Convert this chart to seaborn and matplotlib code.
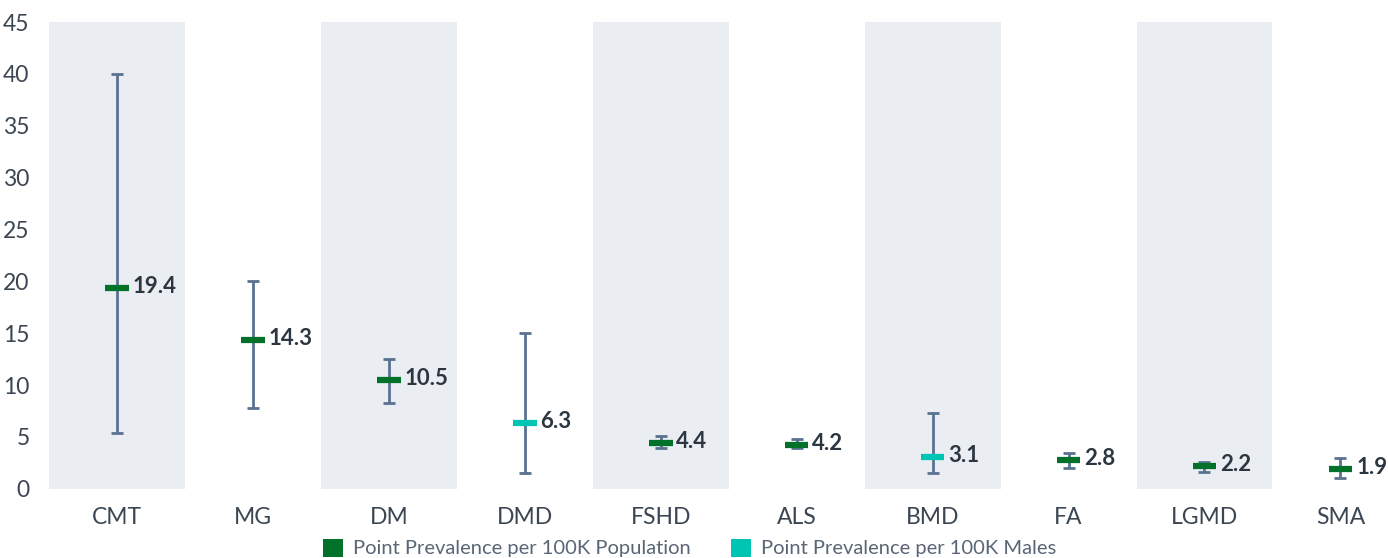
import matplotlib
matplotlib.use("Agg")
import matplotlib.pyplot as plt
from matplotlib.patches import Patch
import seaborn as sns
import pandas as pd

# Point prevalence per 100K with range (low / high)
diseases = ["CMT", "MG", "DM", "DMD", "FSHD", "ALS", "BMD", "FA", "LGMD", "SMA"]
prevalence = [19.4, 14.3, 10.5, 6.3, 4.4, 4.2, 3.1, 2.8, 2.2, 1.9]
range_low = [5.4, 7.8, 8.3, 1.5, 3.9, 3.9, 1.5, 2.0, 1.6, 1.0]
range_high = [40.0, 20.0, 12.5, 15.0, 5.1, 4.8, 7.3, 3.5, 2.6, 3.0]
basis = ["Population", "Population", "Population", "Males", "Population",
         "Population", "Males", "Population", "Population", "Population"]

series_names = {"Population": "Point Prevalence per 100K Population",
                "Males": "Point Prevalence per 100K Males"}
palette = {"Population": "#02722b", "Males": "#00c5b2"}

df = pd.DataFrame({"disease": diseases, "value": prevalence,
                   "low": range_low, "high": range_high, "basis": basis})
df["pos"] = range(len(df))

sns.set_theme(style="white")
plt.rcParams["font.family"] = ["Lato", "DejaVu Sans"]

fig = plt.figure(figsize=(13.88, 5.58), dpi=100)
ax = fig.add_axes([0.0353, 0.124, 0.9647, 0.8364])

# alternating shaded columns
for i in range(0, len(diseases), 2):
    ax.axvspan(i - 0.5, i + 0.5, color="#eaeef2", lw=0, zorder=0)

# range whiskers
ax.errorbar(df["pos"], df["value"],
            yerr=[df["value"] - df["low"], df["high"] - df["value"]],
            fmt="none", ecolor="#5a7190", elinewidth=2, capsize=4,
            capthick=2, zorder=2)

# point estimate dashes
sns.scatterplot(data=df, x="pos", y="value", hue="basis", palette=palette,
                marker="_", s=290, linewidth=4.5, legend=False, ax=ax,
                zorder=3)
for coll in ax.collections:
    coll.set_zorder(3)

for _, r in df.iterrows():
    ax.text(r["pos"] + 0.115, r["value"] + 0.15, f"{r['value']:.1f}",
            ha="left", va="center", fontsize=16, fontweight="bold",
            color="#2b3640", zorder=4)

ax.set_xlim(-0.5, 9.35)
ax.set_ylim(0, 45)
ax.set_yticks(range(0, 46, 5))
ax.set_xticks(df["pos"])
ax.set_xticklabels(diseases)
ax.set_xlabel("")
ax.set_ylabel("")
ax.tick_params(axis="x", length=0, pad=13, labelsize=16.5, labelcolor="#3b4652")
ax.tick_params(axis="y", length=0, pad=14, labelsize=16.5, labelcolor="#3b4652")
for s in ax.spines.values():
    s.set_visible(False)

handles = [Patch(facecolor=palette[k], edgecolor="none", label=series_names[k])
           for k in ["Population", "Males"]]
fig.legend(handles=handles, loc="center", bbox_to_anchor=(0.497, 0.018),
           ncol=2, frameon=False, fontsize=14.5, handlelength=1.0,
           handleheight=1.0, handletextpad=0.5, columnspacing=2.0,
           labelcolor="#5a6675")

fig.savefig("out.png", dpi=100, facecolor="white")
